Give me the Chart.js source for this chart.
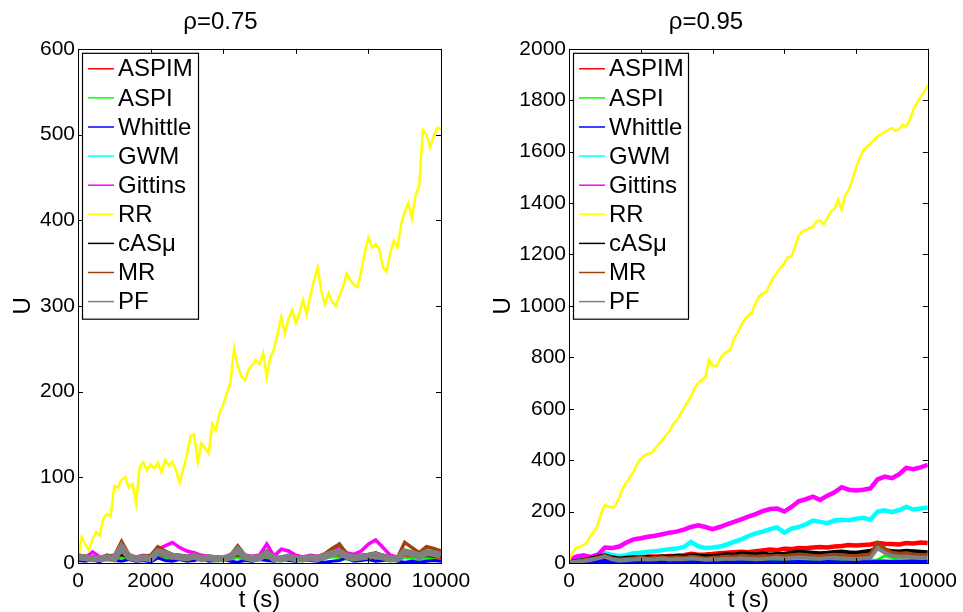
<!DOCTYPE html>
<html>
<head>
<meta charset="utf-8">
<script src="https://cdn.jsdelivr.net/npm/chart.js@4.4.1/dist/chart.umd.min.js"></script>
<style>
  body { margin: 0; background: #fff; }
  #wrap { position: relative; width: 963px; height: 612px; }
  .panel { position: absolute; top: 0; height: 612px; }
</style>
</head>
<body>
<div id="wrap">
  <div class="panel" style="left:0;width:480px"><canvas id="left" width="480" height="612"></canvas></div>
  <div class="panel" style="left:480px;width:483px"><canvas id="right" width="483" height="612"></canvas></div>
</div>
<script>
// sample grids (seconds)
const tFine = [];
for (let t = 0; t <= 10000; t += 100) tFine.push(t);
const tCoarse = [];
for (let t = 0; t <= 10000; t += 200) tCoarse.push(t);

const names = ['ASPIM', 'ASPI', 'Whittle', 'GWM', 'Gittins', 'RR', 'cASμ', 'MR', 'PF'];
const colors = ['#ff0000', '#00ff00', '#0000ff', '#00ffff', '#ff00ff', '#ffff00', '#000000', '#a0400a', '#808080'];

// rho = 0.75
const rrL = [3,30,22,15,28,36,32,52,57,55,
  90,88,97,100,88,92,70,112,118,108,
  115,110,117,106,120,114,118,108,94,110,
  126,148,150,118,140,134,128,162,155,175,
  185,198,211,250,230,218,213,226,231,237,
  232,245,217,240,250,268,287,268,285,295,
  280,292,307,290,312,330,345,318,302,315,
  305,300,312,322,338,330,325,322,340,362,
  380,368,372,366,345,340,362,376,368,395,
  410,420,402,430,440,505,500,485,498,508,
  507];
const aspimL = [6,5,7,4,6,5,8,6,4,5, 6,9,7,5,6,4,7,5,6,4, 5,6,8,5,4,6,7,5,4,6, 5,4,6,5,7,9,8,6,5,6, 7,6,5,4,5,8,7,6,7,6, 5];
const aspiL = [4,3,5,2,4,3,6,4,3,4, 3,7,5,3,4,2,5,3,4,2, 3,4,6,3,2,4,5,3,2,4, 3,2,4,3,5,7,6,4,3,4, 5,4,3,2,3,6,5,4,5,4, 3];
const whittleL = [3,2,4,1,9,3,2,4,2,3, 1,6,3,2,4,2,3,5,2,3, 4,2,1,3,2,4,3,2,5,3, 2,4,3,2,1,2,3,6,2,3, 4,2,3,5,2,1,2,1,2,3, 2];
const gwmL = [7,5,8,4,6,6,15,6,5,6, 7,12,14,9,7,6,8,5,6,5, 4,7,14,7,5,6,11,5,5,7, 5,4,6,5,9,14,23,9,6,7, 8,10,7,5,4,12,11,8,12,10, 9];
const gittinsL = [10,6,13,7,8,9,14,8,7,9, 8,16,20,24,18,14,12,9,8,7, 6,10,15,9,8,9,22,8,16,14, 9,7,9,8,10,15,20,12,10,14, 22,27,18,9,7,14,12,10,14,12, 15];
const casL = [5,4,6,3,5,4,10,5,4,5, 4,9,12,6,5,4,6,4,5,3, 4,5,10,5,4,5,8,4,3,5, 4,3,5,4,7,10,13,6,5,6, 7,12,6,4,4,10,9,6,9,8, 7];
const mrL = [9,8,7,6,9,8,25,10,6,8, 9,19,14,10,9,8,10,7,8,7, 6,9,20,9,7,8,14,7,6,9, 7,6,8,7,11,17,22,11,8,9, 10,12,9,7,6,24,18,12,19,17, 14];
const pfL = [7,6,5,5,6,5,18,7,5,6, 5,13,11,8,7,6,8,5,6,5, 5,7,15,7,5,6,11,5,5,7, 5,5,6,5,8,11,13,8,6,7, 8,9,7,5,5,13,11,8,12,11, 9];

// rho = 0.95
const rrR = [10,40,60,62,70,80,105,122,150,195,
  225,220,215,225,255,290,312,335,355,385,
  405,418,425,428,445,462,478,497,512,540,
  555,578,603,625,650,680,700,712,722,790,
  768,765,790,812,822,830,872,895,925,948,
  962,975,1010,1038,1048,1055,1085,1112,1130,1150,
  1165,1190,1192,1232,1272,1290,1295,1302,1308,1330,
  1332,1318,1340,1368,1378,1412,1375,1430,1452,1490,
  1540,1572,1605,1618,1632,1645,1660,1668,1676,1685,
  1692,1680,1688,1705,1698,1725,1765,1790,1812,1835,
  1855];
const aspimR = [3,5,6,8,10,12,14,15,18,20, 22,24,25,24,27,28,30,36,32,33, 35,38,40,42,44,42,46,49,52,50, 55,54,58,57,60,62,60,64,66,70, 68,70,72,78,75,74,72,78,76,80, 78];
const aspiR = [1,2,2,3,4,5,4,3,3,4, 4,5,4,5,5,6,5,6,6,5, 6,6,7,6,7,7,6,7,8,7, 8,8,9,8,8,9,9,10,9,10, 11,10,11,12,28,20,14,12,13,12, 12];
const whittleR = [1,2,3,4,6,8,5,10,9,6, 4,3,4,3,2,3,2,3,4,8, 3,2,3,4,3,2,3,4,3,2, 3,3,4,3,2,3,4,3,2,3, 3,4,3,5,6,5,4,5,6,5, 5];
const gwmR = [5,12,15,18,25,38,31,26,30,38, 40,44,46,50,54,56,62,82,65,58, 60,64,72,82,92,105,115,122,132,138, 118,134,140,150,165,160,155,165,168,166, 172,176,168,200,205,198,206,218,208,212, 216];
const gittinsR = [10,25,30,24,32,60,58,64,80,92, 96,102,106,112,118,122,130,140,147,140, 132,140,150,160,170,180,190,202,210,212, 200,218,240,248,258,245,262,275,295,285, 282,285,290,325,336,330,345,370,365,372, 382];
const casR = [3,8,12,18,24,30,22,18,20,22, 20,24,22,26,24,28,25,30,28,27, 26,30,34,32,38,36,34,37,33,35, 36,40,44,42,40,38,40,43,45,42, 40,44,48,55,50,47,45,48,46,44, 42];
const mrR = [3,6,10,15,20,28,18,14,16,18, 20,18,20,22,19,22,20,24,22,18, 20,22,25,24,28,26,24,27,25,28, 26,30,33,31,28,26,30,32,30,28, 27,30,33,78,55,40,36,38,33,30, 32];
const pfR = [2,5,8,12,18,25,14,10,12,14, 16,14,15,17,14,16,15,18,16,13, 14,15,17,16,18,17,15,16,18,20, 17,19,21,20,18,17,19,20,18,17, 16,18,20,58,40,28,24,25,22,20, 21];

const FONT = '"Liberation Sans", Arial, Helvetica, sans-serif';

function toPoints(grid, vals) {
  return vals.map((v, i) => ({ x: grid[i], y: v }));
}

function makeDatasets(series, widths) {
  return series.map((vals, i) => ({
    label: names[i],
    data: toPoints(vals.length === tFine.length ? tFine : tCoarse, vals),
    borderColor: colors[i],
    borderWidth: widths[i],
    pointRadius: 0,
    tension: 0,
    fill: false,
    borderJoinStyle: 'miter',
    order: names.length - i   // later series drawn on top
  }));
}

// axes box with inward ticks on all four sides
const framePlugin = {
  id: 'frame',
  afterDatasetsDraw(chart) {
    const { ctx, chartArea: a, scales: { x, y } } = chart;
    ctx.save();
    ctx.strokeStyle = '#000';
    ctx.lineWidth = 1;
    ctx.beginPath();
    x.ticks.forEach(t => {
      const px = Math.round(x.getPixelForValue(t.value)) + 0.5;
      ctx.moveTo(px, a.bottom); ctx.lineTo(px, a.bottom - 5);
      ctx.moveTo(px, a.top); ctx.lineTo(px, a.top + 5);
    });
    y.ticks.forEach(t => {
      const py = Math.round(y.getPixelForValue(t.value)) + 0.5;
      ctx.moveTo(a.left, py); ctx.lineTo(a.left + 5, py);
      ctx.moveTo(a.right, py); ctx.lineTo(a.right - 5, py);
    });
    ctx.stroke();
    ctx.strokeRect(Math.round(a.left) + 0.5, Math.round(a.top) + 0.5,
      Math.round(a.right - a.left), Math.round(a.bottom - a.top));
    ctx.restore();
  }
};

// boxed legend in the upper left corner of the axes
const boxLegend = {
  id: 'boxLegend',
  afterDraw(chart, args, opts) {
    const { ctx, chartArea: a } = chart;
    const sets = chart.data.datasets;
    const left = a.left + 4, top = a.top + 4;
    const rowH = 29.1;
    ctx.save();
    ctx.fillStyle = '#fff';
    ctx.fillRect(left, top, opts.width, rowH * sets.length + 4);
    ctx.strokeStyle = '#000';
    ctx.lineWidth = 1.2;
    ctx.strokeRect(left + 0.5, top + 0.5, opts.width, rowH * sets.length + 4);
    ctx.font = '24px ' + FONT;
    ctx.textBaseline = 'middle';
    sets.forEach((ds, i) => {
      const cy = top + 16 + rowH * i;
      ctx.strokeStyle = ds.borderColor;
      ctx.lineWidth = 1.5;
      ctx.beginPath();
      ctx.moveTo(left + 6, cy); ctx.lineTo(left + 32, cy);
      ctx.stroke();
      ctx.fillStyle = '#000';
      ctx.fillText(ds.label, left + 36, cy + 1);
    });
    ctx.restore();
  }
};

const plain = v => String(v);

function makeChart(id, title, series, widths, yMax, yStep, yWidth, padRight, legendWidth) {
  return new Chart(document.getElementById(id), {
    type: 'line',
    data: { datasets: makeDatasets(series, widths) },
    plugins: [framePlugin, boxLegend],
    options: {
      responsive: false,
      animation: false,
      devicePixelRatio: 1,
      layout: { padding: { left: 0, right: padRight, top: 0, bottom: 0 } },
      plugins: {
        legend: { display: false },
        tooltip: { enabled: false },
        title: {
          display: true,
          text: title,
          color: '#000',
          font: { family: FONT, size: 24, weight: 'normal' },
          padding: { top: 8, bottom: 12 }
        },
        boxLegend: { width: legendWidth }
      },
      scales: {
        x: {
          type: 'linear',
          min: 0, max: 10000,
          grid: { display: false, drawTicks: false },
          border: { display: false },
          ticks: { stepSize: 2000, color: '#000', padding: 6, maxRotation: 0,
                   callback: plain, font: { family: FONT, size: 21 } },
          title: { display: true, text: 't (s)', color: '#000',
                   font: { family: FONT, size: 24 }, padding: { top: 0, bottom: -3 } },
          afterFit: s => { s.height = 49; }
        },
        y: {
          min: 0, max: yMax,
          grid: { display: false, drawTicks: false },
          border: { display: false },
          ticks: { stepSize: yStep, color: '#000', padding: 3,
                   callback: plain, font: { family: FONT, size: 21 } },
          title: { display: true, text: 'U', color: '#000',
                   font: { family: FONT, size: 24 }, padding: { top: 9, bottom: 0 } },
          afterFit: s => { s.width = yWidth; }
        }
      }
    }
  });
}

makeChart('left', 'ρ=0.75',
  [aspimL, aspiL, whittleL, gwmL, gittinsL, rrL, casL, mrL, pfL],
  [2.5, 2.5, 3, 2.5, 3.5, 2.5, 2.5, 3.5, 7],
  600, 100, 78, 39, 116);

makeChart('right', 'ρ=0.95',
  [aspimR, aspiR, whittleR, gwmR, gittinsR, rrR, casR, mrR, pfR],
  [4.5, 3, 4, 4.5, 4.5, 2.5, 4, 4, 4],
  2000, 200, 89, 31, 115);
</script>
</body>
</html>
